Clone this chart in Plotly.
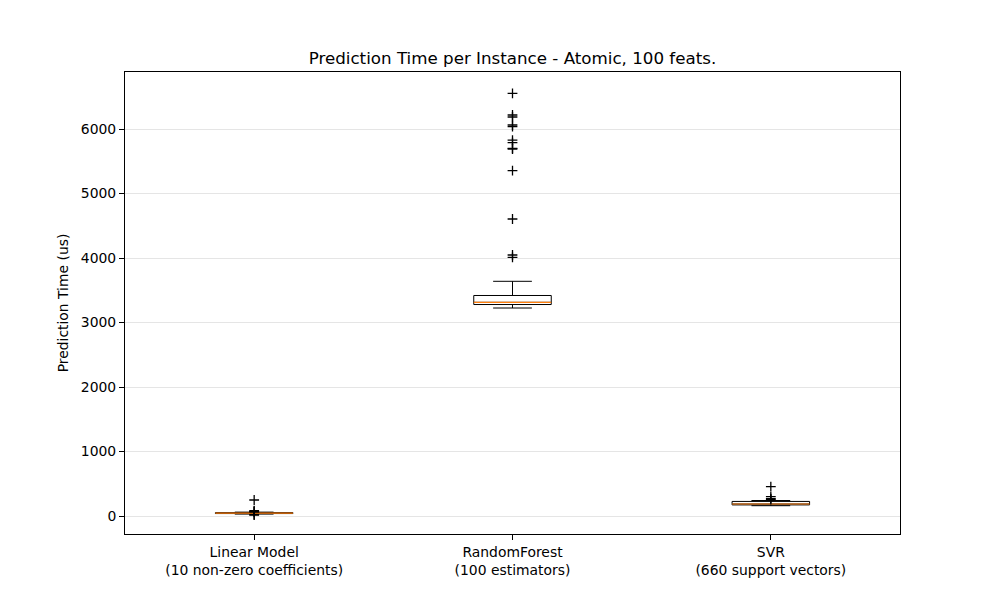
import plotly.graph_objects as go

categories = ["Linear Model<br>(10 non-zero coefficients)",
              "RandomForest<br>(100 estimators)",
              "SVR<br>(660 support vectors)"]
positions = [1, 2, 3]
q1 = [38, 3279, 172]
median = [44, 3313, 186]
q3 = [52, 3419, 226]
lower_whisker = [30, 3225, 160]
upper_whisker = [60, 3639, 240]
outliers = [
    [248, 82, 70, 66, 20, 14],
    [6553, 6217, 6186, 6062, 6036, 5829, 5788, 5700, 5690, 5354, 4605, 4047, 4011],
    [454, 300, 268, 256],
]
box_width = 0.3

fig = go.Figure()

for i, p in enumerate(positions):
    fig.add_trace(go.Box(
        x=[p], q1=[q1[i]], median=[median[i]], q3=[q3[i]],
        lowerfence=[lower_whisker[i]], upperfence=[upper_whisker[i]],
        width=box_width, whiskerwidth=0.5,
        fillcolor="rgba(0,0,0,0)", line=dict(color="black", width=1),
        boxpoints=False, showlegend=False, hoverinfo="skip",
    ))
    fig.add_trace(go.Scatter(
        x=[p - box_width / 2, p + box_width / 2], y=[median[i], median[i]],
        mode="lines", line=dict(color="#ff7f0e", width=1.2),
        showlegend=False, hoverinfo="skip",
    ))
    fig.add_trace(go.Scatter(
        x=[p] * len(outliers[i]), y=outliers[i], mode="markers",
        marker=dict(symbol="cross-thin", size=7, color="black",
                    line=dict(color="black", width=1.3)),
        showlegend=False, hoverinfo="skip",
    ))

font = dict(family="DejaVu Sans", size=13.9, color="black")

W, H = 992, 592
fig.update_layout(
    width=W, height=H,
    margin=dict(l=117, r=100, t=64, b=66),
    paper_bgcolor="white", plot_bgcolor="white",
    font=font,
    title=dict(text="Prediction Time per Instance - Atomic, 100 feats.",
               x=0.5, xref="paper", xanchor="center", y=1 - 50 / H, yanchor="middle",
               font=dict(family="DejaVu Sans", size=16.7, color="black")),
    xaxis=dict(range=[0.5, 3.5], tickvals=positions, ticktext=categories,
               showgrid=False, zeroline=False, showline=True, mirror=True,
               linecolor="black", linewidth=1, ticks="outside", ticklen=5,
               tickcolor="black", tickfont=font),
    yaxis=dict(range=[-279, 6884], tickvals=[0, 1000, 2000, 3000, 4000, 5000, 6000],
               showgrid=True, gridcolor="#e5e5e5", gridwidth=1, zeroline=False,
               showline=True, mirror=True, linecolor="black", linewidth=1,
               ticks="outside", ticklen=5, tickcolor="black", tickfont=font,
               title=dict(text="Prediction Time (us)", font=font, standoff=8)),
)

fig.write_html("out.html")
